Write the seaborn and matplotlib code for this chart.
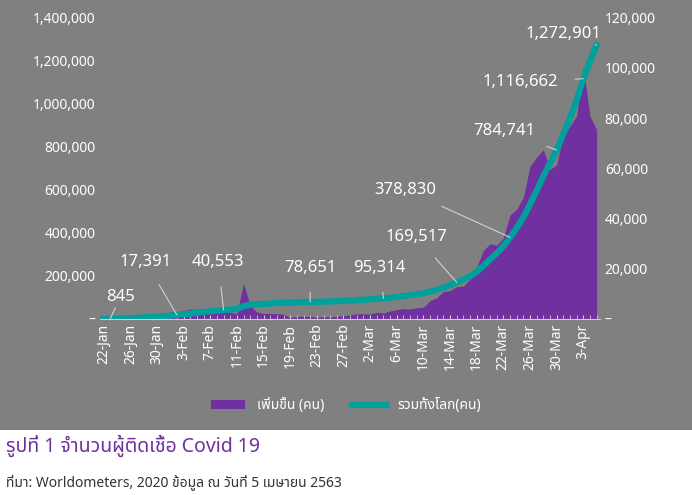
import matplotlib
matplotlib.use("Agg")
import matplotlib.pyplot as plt
import seaborn as sns
import pandas as pd
import numpy as np
from matplotlib.patches import Rectangle, Patch
from matplotlib.lines import Line2D

plt.rcParams["font.family"] = ["Noto Sans Thai", "Noto Sans", "DejaVu Sans"]

dates = pd.date_range("2020-01-22", "2020-04-05", freq="D")
cumulative = [580, 845, 1320, 2014, 2798, 4593, 6065, 7818, 9826, 11953,
              14557, 17391, 20630, 24554, 28276, 31481, 34886, 37558, 40553, 43099,
              45134, 59287, 64438, 67100, 69197, 71329, 73332, 75184, 75700, 76677,
              77673, 78651, 79205, 80087, 80828, 81820, 83112, 84615, 86604,
              88585, 90443, 93016, 95314, 98425, 102050, 106099, 109991, 114381, 118948,
              126214, 134576, 145483, 156653, 169517, 182490, 198238, 218822, 246065, 275944,
              305249, 337489, 378830, 422574, 471035, 531865, 596366, 663740, 723390, 784741,
              858371, 935197, 1016128, 1116662, 1197405, 1272901]
daily = [0, 265, 475, 694, 784, 1795, 1472, 1753, 2008, 2127,
         2604, 2834, 3239, 3924, 3722, 3205, 3405, 2672, 2995, 2546,
         2035, 14153, 5151, 2662, 2097, 2132, 2003, 1852, 516, 977,
         996, 978, 554, 882, 741, 992, 1292, 1503, 1989,
         1981, 1858, 2573, 2298, 3111, 3625, 4049, 3892, 4390, 4567,
         7266, 8362, 10907, 11170, 12864, 12973, 15748, 20584, 27243, 29879,
         29305, 32240, 41341, 43744, 48461, 60830, 64501, 67374, 59650, 61351,
         73630, 76826, 80931, 100534, 80743, 75496]
annot_labels = ["845", "17,391", "40,553", "78,651", "95,314", "169,517",
                "378,830", "784,741", "1,116,662", "1,272,901"]
annot_days = [1, 11, 18, 31, 42, 53, 61, 68, 72, 74]
annot_text_pos = [(2.5, 102000), (6.3, 265000), (17.2, 262000), (31, 237000), (41.4, 237000),
                  (47, 381000), (45.3, 600000), (60.2, 874000), (62.6, 1102000), (69, 1325000)]

purple = "#7030A0"
teal = "#00A19C"
gray = "#808080"

df = pd.DataFrame({"i": np.arange(len(dates)), "cum": cumulative, "daily": daily})

fig = plt.figure(figsize=(6.92, 4.95), dpi=100)
fig.patch.set_facecolor("white")
fig.add_artist(Rectangle((0, 0.131), 1, 0.869, transform=fig.transFigure,
                         facecolor=gray, edgecolor="none", zorder=-10))

ax1 = fig.add_axes([0.145, 0.356, 0.722, 0.608])
ax2 = ax1.twinx()
ax1.set_zorder(2); ax1.patch.set_visible(False)
ax2.set_zorder(1)
ax2.patch.set_facecolor(gray)

ax2.fill_between(df["i"], df["daily"], color=purple, linewidth=0)
sns.lineplot(data=df, x="i", y="cum", ax=ax1, color=teal, linewidth=4.5)

ax1.set_ylim(0, 1400000)
ax2.set_ylim(0, 120000)
ax1.set_xlim(-0.5, len(dates) - 0.5)
ax1.set_yticks(np.arange(0, 1400001, 200000))
ax1.set_yticklabels(["–"] + [f"{v:,}" for v in range(200000, 1400001, 200000)])
ax2.set_yticks(np.arange(0, 120001, 20000))
ax2.set_yticklabels(["–"] + [f"{v:,}" for v in range(20000, 120001, 20000)])
ticks = list(range(0, len(dates), 4))
ax1.set_xticks(ticks)
ax1.set_xticklabels([f"{dates[t].day}-{dates[t].strftime('%b')}" for t in ticks], rotation=90)
ax1.set_xticks(range(len(dates)), minor=True)
ax1.set_xlabel(""); ax1.set_ylabel("")
for ax in (ax1, ax2):
    for s in ax.spines.values():
        s.set_visible(False)
    ax.tick_params(axis="y", length=0, colors="white", labelsize=10)
ax1.spines["bottom"].set_visible(True)
ax1.spines["bottom"].set_color("#cccccc")
ax1.tick_params(axis="x", which="both", colors="white", labelsize=10, length=3, direction="in")
ax1.tick_params(axis="x", which="major", color="#cccccc")
ax1.tick_params(axis="x", which="minor", color="#cccccc")

for lab, d, (tx, ty) in zip(annot_labels, annot_days, annot_text_pos):
    ax1.annotate(lab, xy=(d, cumulative[d]), xytext=(tx, ty), ha="center", va="center",
                 color="white", fontsize=12, fontweight="bold", fontfamily="Noto Sans",
                 arrowprops=dict(arrowstyle="-", color="#d0d0d0", lw=0.8, shrinkA=10, shrinkB=0))

handles = [Patch(facecolor=purple, label="เพิ่มขึ้น (คน)"),
           Line2D([0], [0], color=teal, lw=4.5, label="รวมทั้งโลก(คน)")]
fig.legend(handles=handles, loc="center", bbox_to_anchor=(0.5, 0.18), ncol=2, frameon=False,
           labelcolor="white", fontsize=10, handlelength=2.5)

fig.text(0.008, 0.1, "รูปที่ 1 จำนวนผู้ติดเชื้อ Covid 19", color=purple, fontsize=14,
         fontweight="bold", va="center")
fig.text(0.008, 0.026, "ที่มา: Worldometers, 2020 ข้อมูล ณ วันที่ 5 เมษายน 2563", color="#333333",
         fontsize=10, va="center")

fig.savefig("out.png", dpi=100)
